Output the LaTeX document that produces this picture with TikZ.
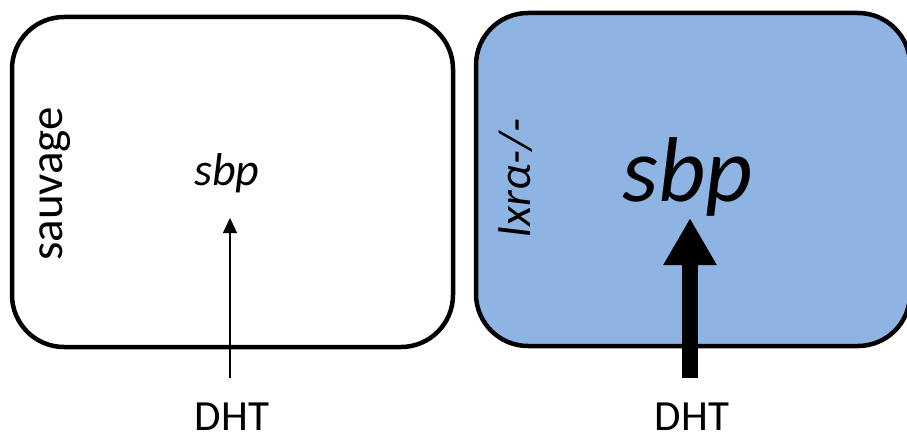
\documentclass[tikz,border=0pt]{standalone}
\usepackage{fontspec}
\setmainfont{Carlito}
\usetikzlibrary{arrows.meta, positioning}

\definecolor{koblue}{RGB}{142,180,227}

\tikzset{
  panel/.style={draw, line width=4.5pt, rounded corners=52pt, inner sep=0pt},
  genotype/.style={rotate=90, anchor=base, font=\fontsize{47}{50}\selectfont},
  gene/.style={anchor=base, font=\fontsize{46}{50}\selectfont\itshape},
  drug/.style={anchor=base, font=\fontsize{43}{48}\selectfont},
  weak/.style={line width=1.3pt, -{Triangle[length=15pt,width=14pt]}},
  strong/.style={line width=16pt, -{Triangle[length=47pt,width=50pt]}},
}

\begin{document}
\begin{tikzpicture}[x=1pt, y=-1pt]
  \useasboundingbox (0,0) rectangle (907,441);

  % the two panels
  \node[panel, minimum width=441pt, minimum height=330pt] (wt) at (232.5,182) {};
  \node[panel, fill=koblue, minimum width=434pt, minimum height=333pt] (ko) at (693,179.5) {};

  % genotypes
  \node[genotype] (wtname) at (62,184) {sauvage};
  \node[genotype, font=\fontsize{46}{50}\selectfont\itshape] (koname) at (530,178) {lxrα-/-};

  % gene and inducer
  \node[gene] (sbpwt) at (227,185) {sbp};
  \node[gene, font=\fontsize{92}{100}\selectfont\itshape] (sbpko) at (688,201) {sbp};
  \node[drug] (dhtwt) at (232,430) {DHT};
  \node[drug] (dhtko) at (692,430) {DHT};

  \coordinate (wtfrom) at (230,378);
  \coordinate (wtto) at (230,218);
  \coordinate (kofrom) at (690,378);
  \coordinate (koto) at (690,218);

  \draw[weak] (wtfrom) -- (wtto);
  \draw[strong] (kofrom) -- (koto);
\end{tikzpicture}
\end{document}
